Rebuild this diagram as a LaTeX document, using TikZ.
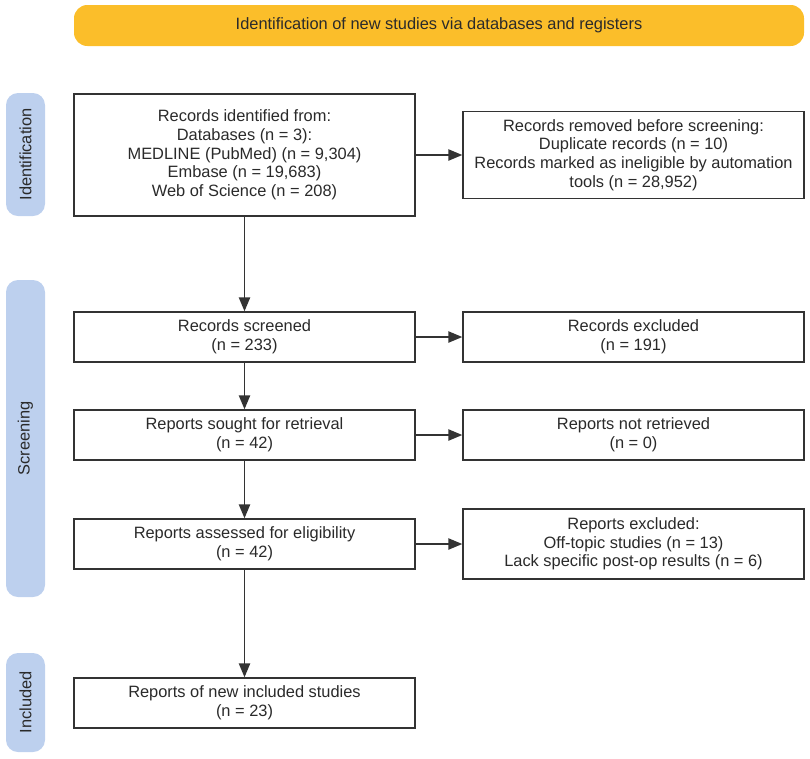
\documentclass[tikz,border=0pt]{standalone}
\usepackage{fontspec}
\setmainfont{Liberation Sans}
\usetikzlibrary{arrows.meta}
\definecolor{bannery}{HTML}{FBBE2A}
\definecolor{barblue}{HTML}{BDD0EE}
\definecolor{linegray}{HTML}{333333}
\definecolor{txt}{HTML}{2A2A2A}
\begin{document}
\begin{tikzpicture}[x=0.75pt,y=-0.75pt,
  font=\fontsize{12.3}{14}\selectfont,
  box/.style={draw=linegray, line width=1.1pt, fill=white, align=center,
    inner sep=0pt, minimum width=341*0.75pt, text=txt},
  bar/.style={fill=barblue, rounded corners=9pt, inner sep=0pt,
    minimum height=39*0.75pt, rotate=90, text=txt},
  arr/.style={draw=linegray, line width=1.1pt, -{Triangle[length=10.5pt,width=8.5pt]}}]
\useasboundingbox (0,0) rectangle (810,758);
% banner
\node[fill=bannery, rounded corners=10pt, minimum width=730*0.75pt,
  minimum height=41*0.75pt, inner sep=0pt, text=txt] (banner) at (439,25.5)
  {Identification of new studies via databases and registers};
% side bars
\node[bar, minimum width=123*0.75pt] (bident) at (25.5,154.5) {Identification};
\node[bar, minimum width=317*0.75pt] (bscreen) at (25.5,438.5) {Screening};
\node[bar, minimum width=99*0.75pt] (bincl) at (25.5,702.5) {Included};
% left boxes
\node[box, minimum height=122*0.75pt] (ident) at (244.5,155)
  {Records identified from:\\Databases (n = 3):\\MEDLINE (PubMed) (n = 9,304)\\Embase (n = 19,683)\\Web of Science (n = 208)};
\node[box, minimum height=50*0.75pt] (screened) at (244.5,337)
  {Records screened\\(n = 233)};
\node[box, minimum height=50*0.75pt] (sought) at (244.5,435)
  {Reports sought for retrieval\\(n = 42)};
\node[box, minimum height=50*0.75pt] (assessed) at (244.5,544)
  {Reports assessed for eligibility\\(n = 42)};
\node[box, minimum height=50*0.75pt] (included) at (244.5,703)
  {Reports of new included studies\\(n = 23)};
% right boxes
\node[box, minimum height=87*0.75pt] (removed) at (633.5,155)
  {Records removed before screening:\\Duplicate records (n = 10)\\Records marked as ineligible by automation\\tools (n = 28,952)};
\node[box, minimum height=50*0.75pt] (excluded) at (633.5,337)
  {Records excluded\\(n = 191)};
\node[box, minimum height=50*0.75pt] (notret) at (633.5,435)
  {Reports not retrieved\\(n = 0)};
\node[box, minimum height=70*0.75pt] (repexcl) at (633.5,544)
  {Reports excluded:\\Off-topic studies (n = 13)\\Lack specific post-op results (n = 6)};
% arrows
\draw[arr] (ident.south) -- (screened.north);
\draw[arr] (screened.south) -- (sought.north);
\draw[arr] (sought.south) -- (assessed.north);
\draw[arr] (assessed.south) -- (included.north);
\draw[arr] (ident.east) -- (removed.west);
\draw[arr] (screened.east) -- (excluded.west);
\draw[arr] (sought.east) -- (notret.west);
\draw[arr] (assessed.east) -- (repexcl.west);
\end{tikzpicture}
\end{document}
